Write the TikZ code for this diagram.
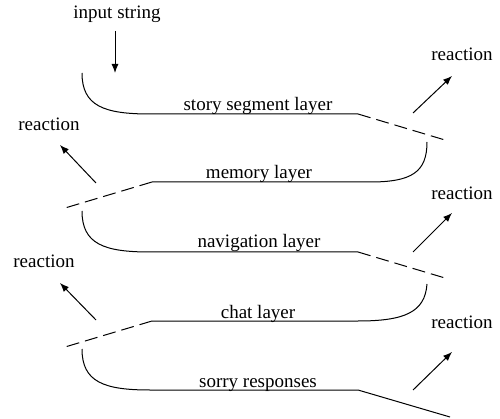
\documentclass[tikz,border=0pt]{standalone}
\usepackage{fontspec}
\setmainfont{Liberation Serif}
\usetikzlibrary{arrows.meta}
\begin{document}
\begin{tikzpicture}[x=1pt,y=-1pt,
  lbl/.style={font=\fontsize{19}{22}\selectfont, anchor=base, inner sep=0pt},
  layerline/.style={line width=1pt},
  dashline/.style={line width=1pt, dash pattern=on 13pt off 6pt},
  arr/.style={line width=1pt, -{Latex[length=9pt,width=7pt]}}]
\useasboundingbox (0,0) rectangle (500,419);
% texts
\node[lbl] (input) at (117,19) {input string};
\node[lbl] (r1) at (462,61) {reaction};
\node[lbl] (l1) at (49,131) {reaction};
\node[lbl] (r2) at (462,200) {reaction};
\node[lbl] (l2) at (44,268) {reaction};
\node[lbl] (r3) at (462,328) {reaction};
\node[lbl] (t1) at (258,111) {story segment layer};
\node[lbl] (t2) at (259,179) {memory layer};
\node[lbl] (t3) at (259,248) {navigation layer};
\node[lbl] (t4) at (258,318) {chat layer};
\node[lbl] (t5) at (258,387) {sorry responses};
% coordinates
\coordinate (inA) at (115,31); \coordinate (inB) at (115,73);
\coordinate (a1) at (82,73);  \coordinate (b1) at (150,114); \coordinate (c1) at (358,114); \coordinate (d1) at (445,140);
\coordinate (a2) at (427,142); \coordinate (b2) at (370,182); \coordinate (c2) at (152,182); \coordinate (d2) at (65,208);
\coordinate (a3) at (82,211); \coordinate (b3) at (150,252); \coordinate (c3) at (358,252); \coordinate (d3) at (445,278);
\coordinate (a4) at (427,284); \coordinate (b4) at (358,321); \coordinate (c4) at (152,321); \coordinate (d4) at (65,347);
\coordinate (a5) at (82,349); \coordinate (b5) at (150,390); \coordinate (c5) at (358,390); \coordinate (d5) at (450,417);
\coordinate (ra1) at (413,113); \coordinate (rb1) at (452,76);
\coordinate (la1) at (96,183);  \coordinate (lb1) at (60,145);
\coordinate (ra2) at (413,252); \coordinate (rb2) at (452,213);
\coordinate (la2) at (96,320);  \coordinate (lb2) at (60,283);
\coordinate (ra3) at (413,390); \coordinate (rb3) at (452,352);
% input arrow
\draw[arr] (inA) -- (inB);
% layer 1
\draw[layerline] (a1) .. controls (82,106) and (104,114) .. (b1) -- (c1);
\draw[dashline] (c1) -- (d1);
% layer 2
\draw[layerline] (a2) .. controls (427,172) and (412,182) .. (b2) -- (c2);
\draw[dashline] (c2) -- (d2);
% layer 3
\draw[layerline] (a3) .. controls (82,244) and (104,252) .. (b3) -- (c3);
\draw[dashline] (c3) -- (d3);
% layer 4
\draw[layerline] (a4) .. controls (425,312) and (405,321) .. (b4) -- (c4);
\draw[dashline] (c4) -- (d4);
% layer 5
\draw[layerline] (a5) .. controls (82,382) and (104,390) .. (b5) -- (c5) -- (d5);
% reaction arrows
\draw[arr] (ra1) -- (rb1);
\draw[arr] (la1) -- (lb1);
\draw[arr] (ra2) -- (rb2);
\draw[arr] (la2) -- (lb2);
\draw[arr] (ra3) -- (rb3);
\end{tikzpicture}
\end{document}
